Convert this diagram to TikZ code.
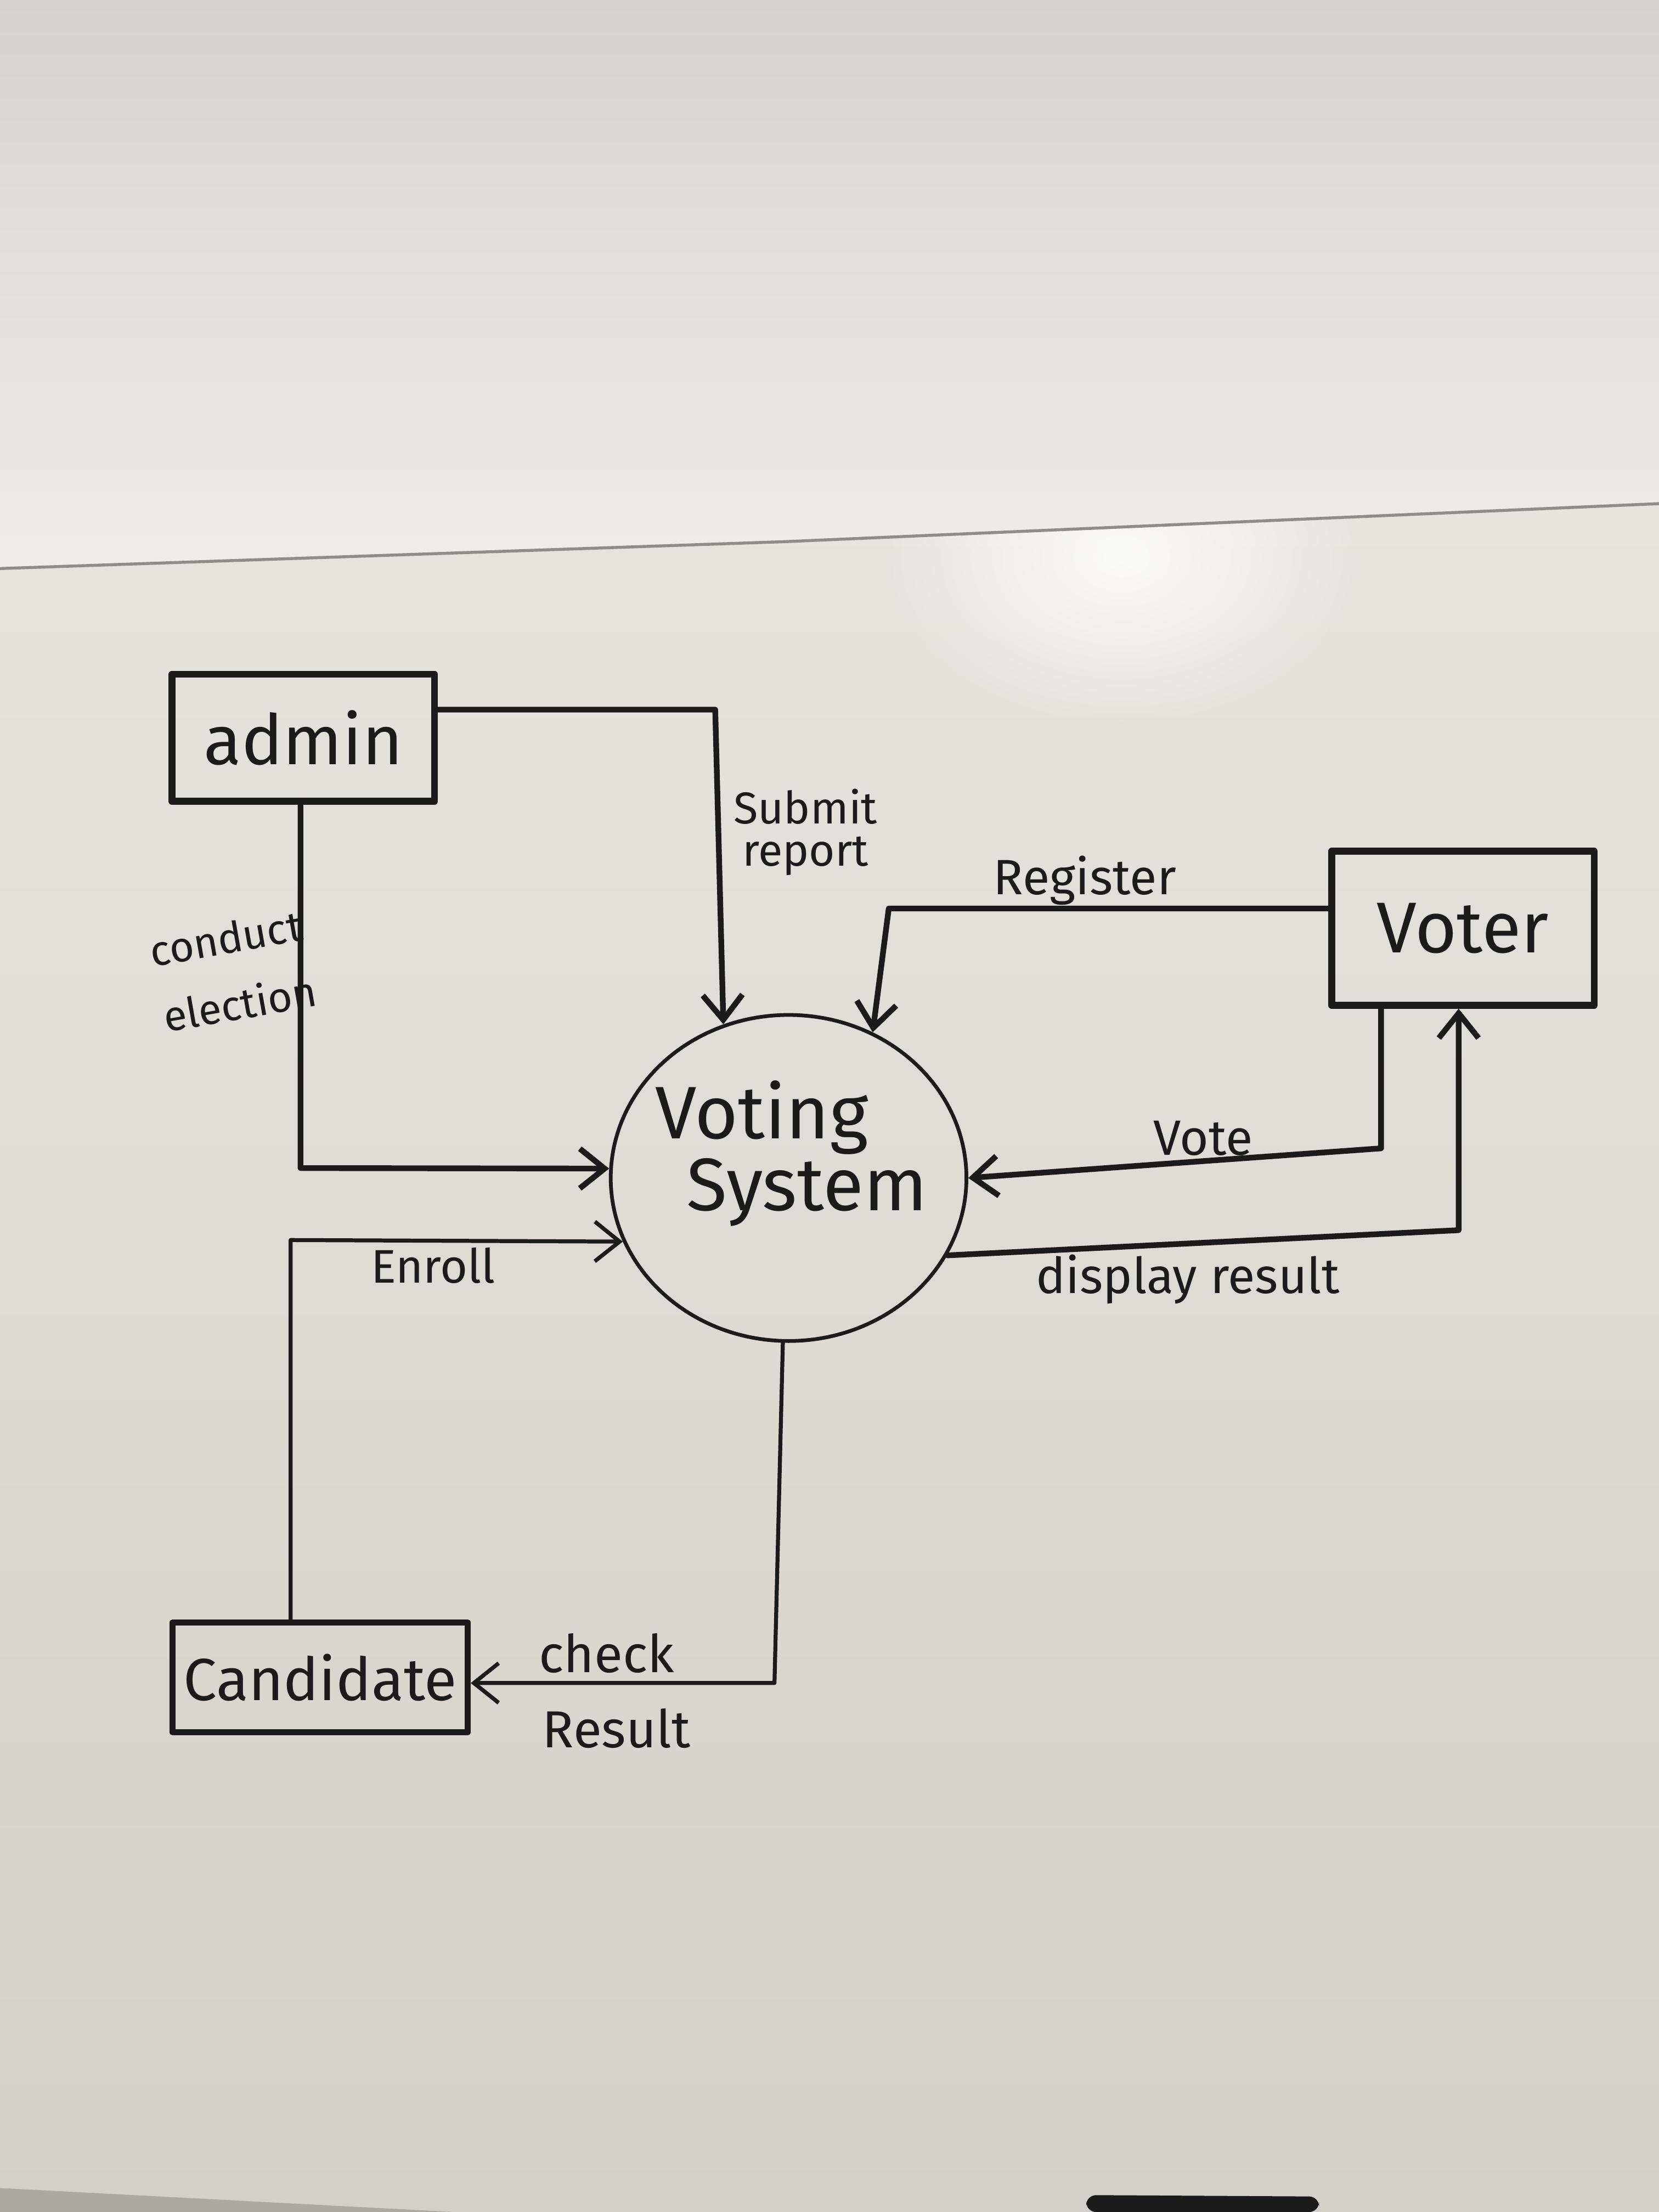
\documentclass[tikz,border=0pt]{standalone}
\usepackage{fontspec}
\setmainfont{Fira Sans}
\usetikzlibrary{arrows.meta,shapes.geometric,fadings}

\definecolor{ink}{HTML}{1B1B1B}
\definecolor{wallhi}{HTML}{EEEDEA}
\definecolor{walllo}{HTML}{D4D3CF}
\definecolor{boardhi}{HTML}{E6E4DF}
\definecolor{boardlo}{HTML}{D3D0C9}
\definecolor{boardedge}{HTML}{8F8D89}
\definecolor{floorgray}{HTML}{ABA9A4}

\tikzfading[name=glow, inner color=transparent!0, outer color=transparent!100]

\begin{document}
\begin{tikzpicture}[x=0.01cm, y=-0.01cm,
  inkline/.style={draw=ink, line cap=round, line join=round},
  entity/.style={inkline, rectangle, line width=1.4pt, inner sep=0pt, text=ink},
  process/.style={inkline, ellipse, line width=0.75pt, inner sep=0pt,
                  minimum width=2.52cm, minimum height=2.31cm},
  flow/.style={inkline, line width=1.15pt, -{Straight Barb[length=5pt,width=8pt]}},
  thinflow/.style={flow, line width=0.8pt},
  flowlabel/.style={text=ink, inner sep=0pt, align=center, font=\fontsize{10}{11}\selectfont},
  bigtext/.style={text=ink, inner sep=0pt, font=\fontsize{15}{18}\selectfont}]

% ---- wall, whiteboard and lighting ----
\useasboundingbox (0,0) rectangle (1176,1568);
\shade[top color=walllo, bottom color=wallhi]
  (0,0) -- (1176,0) -- (1176,357) -- (877,370) -- (555,384) -- (0,403) -- cycle;
\shade[top color=boardhi, bottom color=boardlo]
  (0,403) -- (555,384) -- (877,370) -- (1176,357) -- (1176,1568) -- (0,1568) -- cycle;
\begin{scope}
  \clip (0,403) -- (555,384) -- (877,370) -- (1176,357) -- (1176,1568) -- (0,1568) -- cycle;
  \fill[white, opacity=0.85, path fading=glow] (795,395) ellipse (170 and 120);
\end{scope}
\draw[boardedge, line width=0.6pt] (0,403) -- (555,384) -- (877,370) -- (1176,357);
\fill[floorgray] (0,1551) -- (322,1568) -- (0,1568) -- cycle;
\fill[ink, rounded corners=2pt] (770,1568) -- (770,1556) -- (935,1557) -- (935,1568) -- cycle;

% ---- external entities and the process ----
\node[entity, minimum width=1.86cm, minimum height=0.90cm,
      font=\fontsize{14}{16}\selectfont] (admin) at (215,523) {admin};
\node[entity, minimum width=1.86cm, minimum height=1.09cm,
      font=\fontsize{14.5}{17}\selectfont] (voter) at (1037,658) {Voter};
\node[entity, line width=1.2pt, minimum width=2.09cm, minimum height=0.78cm,
      font=\fontsize{12}{14}\selectfont] (cand) at (227,1189) {Candidate};

\node[process] (sys) at (559,835) {};
\node[bigtext] (sysA) at (540,792) {Voting};
\node[bigtext] (sysB) at (572,845) {System};

% ---- data flows ----
\coordinate (srTurn) at (507,503);
\draw[flow] (admin.east |- srTurn) -- (srTurn) -- (sys.113.8);

\coordinate (ceTurn) at (213,828);
\draw[flow] (ceTurn |- admin.south) -- (ceTurn) -- (sys.177);

\coordinate (regTurn) at (630,644);
\draw[flow] (voter.west |- regTurn) -- (regTurn) -- (sys.60);

\coordinate (voteTurn) at (979,814);
\draw[flow] (voteTurn |- voter.south) -- (voteTurn) -- (sys.0);

\coordinate (dispTurn) at (1034,872);
\draw[flow] (sys.-26) -- (dispTurn) -- (dispTurn |- voter.south);

\coordinate (enTurn) at (206,879);
\draw[thinflow] (enTurn |- cand.north) -- (enTurn) -- (sys.201);

\coordinate (crTurn) at (549,1193);
\draw[thinflow] (sys.268) -- (crTurn) -- (cand.east |- crTurn);

% ---- flow labels ----
\node[flowlabel, font=\fontsize{9}{8.5}\selectfont] (lSubmit) at (571,590) {Submit\\report};
\node[flowlabel, font=\fontsize{8.5}{10}\selectfont, rotate=10] (lConduct) at (160,665) {conduct};
\node[flowlabel, font=\fontsize{8.5}{10}\selectfont, rotate=10] (lElection) at (170,711) {election};
\node[flowlabel] (lRegister) at (769,624) {Register};
\node[flowlabel] (lVote) at (853,807) {Vote};
\node[flowlabel] (lDisplay) at (842,907) {display result};
\node[flowlabel, font=\fontsize{9.5}{11}\selectfont] (lEnroll) at (307,897) {Enroll};
\node[flowlabel, font=\fontsize{10.5}{12}\selectfont] (lCheck) at (430,1172) {check};
\node[flowlabel, font=\fontsize{10.5}{12}\selectfont] (lResult) at (437,1225) {Result};
\end{tikzpicture}
\end{document}
